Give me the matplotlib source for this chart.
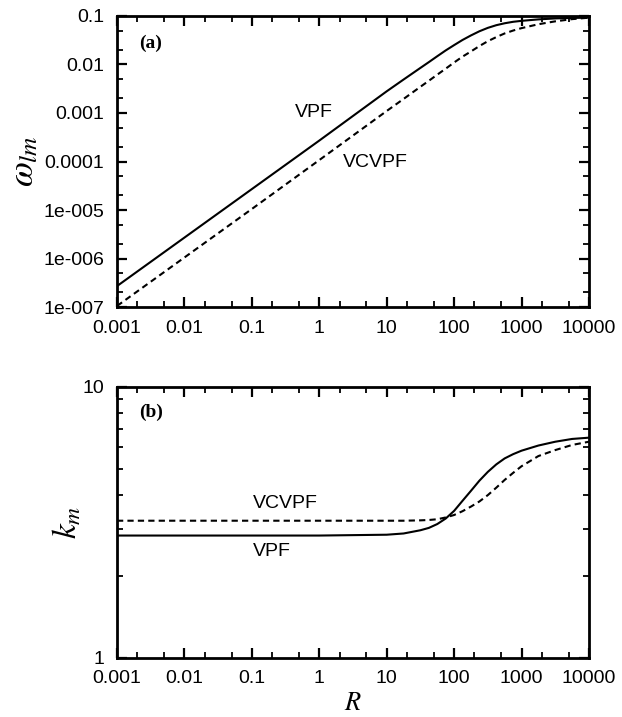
import numpy as np
import matplotlib
matplotlib.use('Agg')
import matplotlib.pyplot as plt
from matplotlib.ticker import LogLocator, FixedLocator, NullFormatter

plt.rcParams['font.family'] = ['Liberation Sans', 'DejaVu Sans']
plt.rcParams['mathtext.fontset'] = 'stix'

# values
R = [0.001, 0.01, 0.1, 1, 10, 17.8, 31.6, 42.2, 56.2, 75, 100, 133, 178, 237, 316,
     422, 562, 750, 1000, 1778, 3162, 5623, 10000]

omega_vpf = [2.7e-7, 2.7e-6, 2.7e-5, 2.7e-4, 2.8e-3, 4.9e-3, 8.5e-3, 0.0112, 0.0148, 0.0195,
             0.0251, 0.032, 0.0398, 0.0484, 0.0569, 0.0646, 0.0708, 0.0759, 0.0794, 0.0851,
             0.0891, 0.0912, 0.0923]
omega_vcvpf = [1.05e-7, 1.05e-6, 1.05e-5, 1.07e-4, 1.1e-3, 1.95e-3, 3.47e-3, 4.62e-3, 6.17e-3,
               8.2e-3, 0.011, 0.0145, 0.0186, 0.024, 0.0302, 0.0367, 0.0437, 0.0501, 0.0562,
               0.0676, 0.0776, 0.0861, 0.0923]

k_vpf = [2.83, 2.83, 2.83, 2.83, 2.85, 2.88, 2.96, 3.02, 3.12, 3.27, 3.49, 3.8, 4.14, 4.51,
         4.86, 5.18, 5.45, 5.65, 5.82, 6.08, 6.28, 6.43, 6.5]
k_vcvpf = [3.21, 3.21, 3.21, 3.21, 3.21, 3.21, 3.22, 3.23, 3.25, 3.3, 3.37, 3.48, 3.62, 3.78,
           3.99, 4.25, 4.54, 4.82, 5.1, 5.56, 5.85, 6.11, 6.28]

xticks = [0.001, 0.01, 0.1, 1, 10, 100, 1000, 10000]
xticklabels = ['0.001', '0.01', '0.1', '1', '10', '100', '1000', '10000']
wticks = [1e-7, 1e-6, 1e-5, 1e-4, 1e-3, 1e-2, 1e-1]
wticklabels = ['1e-007', '1e-006', '1e-005', '0.0001', '0.001', '0.01', '0.1']
kticks = [1, 10]
kticklabels = ['1', '10']

fig = plt.figure(figsize=(6.22, 7.17), dpi=100)
ax1 = fig.add_axes([0.1881, 0.5718, 0.7588, 0.4059])
ax2 = fig.add_axes([0.1881, 0.0823, 0.7588, 0.378])

dash = (0, (3.0, 2.0))

ax1.plot(R, omega_vpf, color='black', lw=1.5)
ax1.plot(R, omega_vcvpf, color='black', lw=1.5, linestyle=dash)
ax2.plot(R, k_vpf, color='black', lw=1.5)
ax2.plot(R, k_vcvpf, color='black', lw=1.5, linestyle=dash)

for ax in (ax1, ax2):
    ax.set_xscale('log')
    ax.set_yscale('log')
    ax.set_xlim(0.001, 10000)
    ax.xaxis.set_major_locator(FixedLocator(xticks))
    ax.set_xticklabels(xticklabels)
    ax.xaxis.set_minor_locator(LogLocator(base=10, subs=[2, 5], numticks=20))
    ax.xaxis.set_minor_formatter(NullFormatter())
    ax.tick_params(which='both', direction='in', top=True, right=True, labelsize=14)
    ax.tick_params(which='major', length=7, width=1.6)
    ax.tick_params(which='minor', length=4, width=1.3)
    ax.tick_params(axis='x', which='major', pad=9)
    ax.tick_params(axis='y', which='major', pad=9)
    for s in ax.spines.values():
        s.set_linewidth(2)

ax1.set_ylim(1e-7, 0.1)
ax1.yaxis.set_major_locator(FixedLocator(wticks))
ax1.set_yticklabels(wticklabels)
ax1.yaxis.set_minor_locator(LogLocator(base=10, subs=[2, 5], numticks=20))
ax1.yaxis.set_minor_formatter(NullFormatter())
ax1.set_ylabel(r'$\omega_{lm}$', fontsize=26)
ax1.yaxis.set_label_coords(-0.16, 0.5)

ax2.set_ylim(1, 10)
ax2.yaxis.set_major_locator(FixedLocator(kticks))
ax2.set_yticklabels(kticklabels)
ax2.yaxis.set_minor_locator(LogLocator(base=10, subs=np.arange(2, 10), numticks=20))
ax2.yaxis.set_minor_formatter(NullFormatter())
ax2.set_ylabel(r'$k_m$', fontsize=24)
ax2.yaxis.set_label_coords(-0.07, 0.5)
ax2.set_xlabel(r'$R$', fontsize=19)
ax2.xaxis.set_label_coords(0.5, -0.12)

ax1.text(0.072, 0.907, '(a)', transform=ax1.transAxes, ha='center', va='center',
         fontsize=14, fontweight='bold', family=['Liberation Serif', 'DejaVu Serif'])
ax2.text(0.072, 0.908, '(b)', transform=ax2.transAxes, ha='center', va='center',
         fontsize=14, fontweight='bold', family=['Liberation Serif', 'DejaVu Serif'])

ax1.text(0.84, 1.0e-3, 'VPF', ha='center', va='center', fontsize=14)
ax1.text(6.9, 9.5e-5, 'VCVPF', ha='center', va='center', fontsize=14)
ax2.text(0.31, 3.73, 'VCVPF', ha='center', va='center', fontsize=14)
ax2.text(0.2, 2.48, 'VPF', ha='center', va='center', fontsize=14)

fig.savefig('out.png', dpi=100)
